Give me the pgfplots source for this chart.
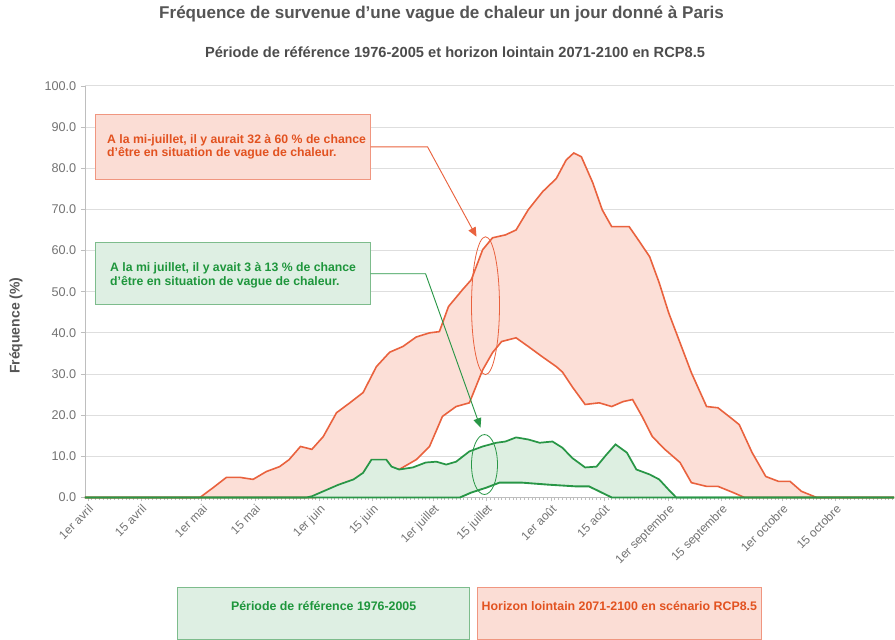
\documentclass[border=0pt]{standalone}
\usepackage{fontspec}
\setmainfont{Liberation Sans}
\usepackage{pgfplots}
\pgfplotsset{compat=1.18}
\usepackage{pgfplotstable}
\usepgfplotslibrary{fillbetween}
\usetikzlibrary{arrows.meta}

\definecolor{redline}{RGB}{233,98,62}
\definecolor{pinkfill}{RGB}{252,223,215}
\definecolor{greenline}{RGB}{40,150,70}
\definecolor{greenfill}{RGB}{221,239,225}
\definecolor{redboxfill}{RGB}{251,221,213}
\definecolor{redboxborder}{RGB}{240,150,128}
\definecolor{greenboxfill}{RGB}{222,239,227}
\definecolor{greenboxborder}{RGB}{125,188,140}
\definecolor{redtext}{RGB}{226,82,32}
\definecolor{greentext}{RGB}{30,150,60}
\definecolor{titlegrey}{RGB}{85,85,85}
\definecolor{tickgrey}{RGB}{115,115,115}
\definecolor{gridgrey}{RGB}{222,222,222}
\definecolor{axisgrey}{RGB}{190,190,190}

\pgfplotstableread{
x y
-0.8 0
29.5 0
33 2.4
36.5 4.9
40 4.9
43.5 4.4
47 6.3
50.5 7.5
53 9.2
56 12.4
59 11.7
62 14.8
65.5 20.6
69 23
72.5 25.5
76 31.8
79.5 35.3
83 36.7
86.5 39
90 40
92.6 40.3
95 46.4
98.7 50.5
101 52.9
104 60.2
106.6 63.1
110 63.8
112.8 65
116 69.9
119.8 74.3
123.4 77.5
126 82
128 83.7
130 82.8
133 76.5
135.5 69.9
138 65.8
142.6 65.8
145 62.6
148 58.5
150.5 52.2
153 44.9
156 37.6
159 30.3
163 22.1
166 21.8
170 18.9
171.6 17.7
175 10.9
178.6 5.1
182 3.9
185 3.9
188 1.5
192 0
212.4 0
}\redup

\pgfplotstableread{
x y
-0.8 0
60 0
66 1.5
72 3.5
78 5.5
82 6.8
86.5 9.2
90 12.4
93.4 19.7
97 22.1
100.5 23
104 31
106.6 35.2
109 37.9
112.8 38.8
116 36.7
119.7 34.2
123.4 31.8
125 30.5
127.6 26.9
131 22.6
134.7 23
138 22.1
141 23.3
143.5 23.8
146 19.7
148.7 14.8
152 11.7
156 8.5
159 3.6
163 2.7
166 2.7
170 1.2
173 0
212.4 0
}\redlo

\pgfplotstableread{
x y
-0.8 0
57.6 0
59 0.3
63 1.9
66 3.1
70 4.4
72.5 6
74.7 9.2
78.6 9.2
80 7.5
82 6.8
85.6 7.3
89 8.5
91.8 8.7
94.4 8
97 8.7
100.5 11.2
104 12.4
107.6 13.3
110 13.6
112.8 14.6
116 14.1
119 13.3
122.4 13.6
125 12.1
127.6 9.6
131 7.3
134 7.5
136.6 10.4
139 12.9
142 10.9
144.5 6.8
148 5.6
150.5 4.4
153 1.9
155 0
212.4 0
}\greenup

\pgfplotstableread{
x y
-0.8 0
98 0
101 1.2
105 2.4
108.4 3.6
114.5 3.6
121.6 3.1
128.6 2.7
132 2.7
134.7 1.5
138 0
212.4 0
}\greenlo

\newcommand\titlefont{\fontsize{12.8}{15}\selectfont\bfseries}
\newcommand\subfont{\fontsize{11}{13}\selectfont\bfseries}
\newcommand\annotfont{\fontsize{9.2}{11}\selectfont\bfseries}
\newcommand\legfont{\fontsize{9.3}{11}\selectfont\bfseries}

\begin{document}
\begin{tikzpicture}
\begin{scope}[x=0.75pt,y=-0.75pt]
\path[use as bounding box] (0,0) rectangle (895,631);
\end{scope}
\begin{axis}[
  scale only axis, width=607.5pt, height=309pt,
  anchor=south west, at={(63.75pt,-373.5pt)},
  xmin=-0.8, xmax=212.4, ymin=0, ymax=100,
  clip=false,
  axis x line*=bottom, axis y line*=left,
  axis line style={draw=axisgrey, line width=0.6pt, -},
  ytick={0,10,...,100},
  /pgf/number format/assume math mode=true,
  y tick label style={/pgf/number format/.cd, fixed, fixed zerofill, precision=1, /tikz/.cd,
    font=\fontsize{9.5}{10}\selectfont, text=tickgrey},
  ymajorgrids,
  grid style={draw=gridgrey, line width=0.7pt},
  tick align=outside,
  major tick length=3pt,
  minor tick length=2pt,
  ytick style={draw=axisgrey, line width=0.6pt},
  xtick style={draw=axisgrey, line width=0.5pt},
  xtick={0,14,30,44,61,75,91,105,122,136,153,167,183,197},
  xticklabels={1er avril,15 avril,1er mai,15 mai,1er juin,15 juin,1er juillet,15 juillet,1er août,15 août,1er septembre,15 septembre,1er octobre,15 octobre},
  minor xtick={0,1,...,212},
  x tick label style={rotate=45, anchor=north east, font=\fontsize{9}{10}\selectfont, text=tickgrey, inner sep=1pt},
]
\addplot[draw=none, name path=ru, forget plot] table {\redup};
\addplot[draw=none, name path=rl, forget plot] table {\redlo};
\addplot[draw=none, name path=gu, forget plot] table {\greenup};
\addplot[draw=none, name path=gl, forget plot] table {\greenlo};
\addplot[fill=pinkfill, draw=none, forget plot] fill between[of=ru and rl, on layer=main];
\addplot[redline, line width=1.2pt] table {\redup};
\addplot[redline, line width=1.2pt] table {\redlo};
\addplot[fill=greenfill, draw=none, forget plot] fill between[of=gu and gl, on layer=main];
\addplot[greenline, line width=1.3pt] table {\greenup};
\addplot[greenline, line width=1.4pt] table {\greenlo};
\end{axis}
\begin{scope}[x=0.75pt,y=-0.75pt]
% titles
\node[font=\titlefont, text=titlegrey] at (442,14) {Fréquence de survenue d'une vague de chaleur un jour donné à Paris};
\node[font=\subfont, text=titlegrey!90!black] at (455.5,52) {Période de référence 1976-2005 et horizon lointain 2071-2100 en RCP8.5};
\node[rotate=90, font=\fontsize{10.5}{12}\selectfont\bfseries, text=titlegrey] at (16,326) {Fréquence (\%)};
% red annotation
\draw[draw=redboxborder, fill=redboxfill, line width=0.8pt] (96,115) rectangle (371,180);
\node[anchor=base west, text=redtext, font=\annotfont, inner sep=0pt] at (107,144) {A la mi-juillet, il y aurait 32 à 60 \% de chance};
\node[anchor=base west, text=redtext, font=\annotfont, inner sep=0pt] at (107,157) {d'être en situation de vague de chaleur.};
\draw[redline, line width=0.7pt, -{Triangle[length=7pt,width=6pt]}] (371,147) -- (428,147) -- (477,237);
\draw[redline, line width=0.6pt] (486,306) ellipse [x radius=14, y radius=69];
% green annotation
\draw[draw=greenboxborder, fill=greenboxfill, line width=0.8pt] (96,243) rectangle (371,305);
\node[anchor=base west, text=greentext, font=\annotfont, inner sep=0pt] at (110,272) {A la mi juillet, il y avait 3 à 13 \% de chance};
\node[anchor=base west, text=greentext, font=\annotfont, inner sep=0pt] at (110,286) {d'être en situation de vague de chaleur.};
\draw[greenline, line width=0.7pt, -{Triangle[length=7pt,width=6pt]}] (371,274) -- (426,274) -- (481,428);
\draw[greenline, line width=0.6pt] (485,465) ellipse [x radius=13, y radius=30];
% legend
\draw[draw=greenboxborder, fill=greenboxfill, line width=0.8pt] (178,588) rectangle (470,640);
\node[font=\legfont, text=greentext] at (324,607) {Période de référence 1976-2005};
\draw[draw=redboxborder, fill=redboxfill, line width=0.8pt] (478,588) rectangle (762,640);
\node[font=\legfont, text=redtext] at (620,607) {Horizon lointain 2071-2100 en scénario RCP8.5};
\end{scope}
\end{tikzpicture}
\end{document}
